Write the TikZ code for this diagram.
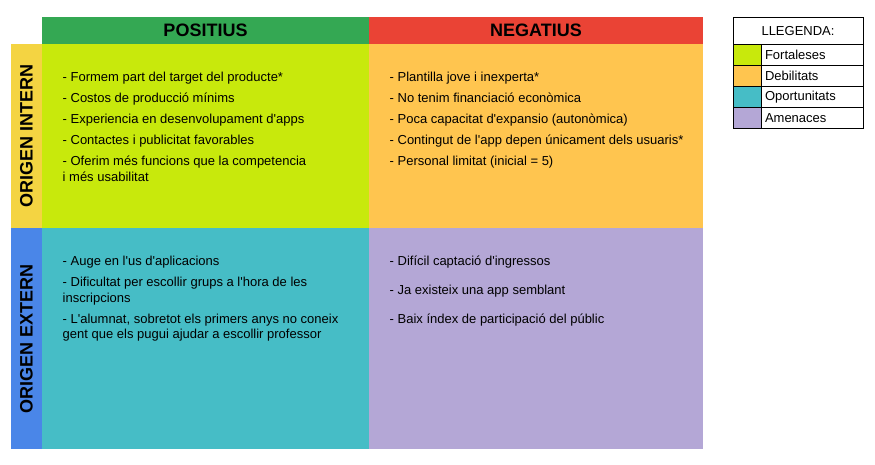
\documentclass[tikz,border=0pt]{standalone}
\usepackage{fontspec}
\setmainfont{Liberation Sans}
\usepackage{tikz}
\usetikzlibrary{positioning}
\definecolor{posgreen}{HTML}{34A853}
\definecolor{negred}{HTML}{EA4335}
\definecolor{intyellow}{HTML}{F4D442}
\definecolor{extblue}{HTML}{4A86E8}
\definecolor{fortcol}{HTML}{C8E90C}
\definecolor{debcol}{HTML}{FFC54F}
\definecolor{oporcol}{HTML}{46BDC6}
\definecolor{amencol}{HTML}{B4A7D6}
\newcommand{\ap}{\textquotesingle}

\begin{document}
\begin{tikzpicture}[
    x=1pt, y=-1pt,
    cell/.style={inner sep=0pt, outer sep=0pt},
    head/.style={cell, minimum height=27.3pt, font=\fontsize{18}{20}\selectfont\bfseries},
    side/.style={rotate=90, font=\fontsize{18}{20}\selectfont\bfseries},
    items/.style={align=left, inner sep=0pt, font=\fontsize{13}{15.5}\selectfont},
    key/.style={draw=black, line width=0.8pt, inner sep=0pt, outer sep=0pt, minimum height=21.1pt,
                font=\fontsize{13}{15}\selectfont},
    keylabel/.style={key, text width=94pt, inner xsep=4pt, align=left}
  ]
    \useasboundingbox (0,0) rectangle (875,464);

    % header row
    \node[head, fill=posgreen, minimum width=327pt, anchor=north west] (poshead) at (42,16.7) {POSITIUS};
    \node[head, fill=negred, minimum width=334pt, right=0pt of poshead] (neghead) {NEGATIUS};

    % the four quadrants
    \node[cell, fill=fortcol, minimum width=327pt, minimum height=184pt, below=0pt of poshead] (fort) {};
    \node[cell, fill=debcol, minimum width=334pt, minimum height=184pt, right=0pt of fort] (deb) {};
    \node[cell, fill=oporcol, minimum width=327pt, minimum height=221pt, below=0pt of fort] (opor) {};
    \node[cell, fill=amencol, minimum width=334pt, minimum height=221pt, right=0pt of opor] (amen) {};

    % side column
    \node[cell, fill=intyellow, minimum width=31.3pt, minimum height=184pt, left=0pt of fort] (intern) {};
    \node[cell, fill=extblue, minimum width=31.3pt, minimum height=221pt, left=0pt of opor] (extern) {};
    \node[side] at (intern) {ORIGEN INTERN};
    \node[side] at (extern) {ORIGEN EXTERN};

    % contents
    \node[items, below right=28pt and 20.5pt of fort.north west] (fortlist)
      {- Formem part del target del producte*\\[5.5pt]
       - Costos de producció mínims\\[5.5pt]
       - Experiencia en desenvolupament d\ap apps\\[5.5pt]
       - Contactes i publicitat favorables\\[5.5pt]
       - Oferim més funcions que la competencia\\
       i més usabilitat};
    \node[items, below right=28pt and 20.5pt of deb.north west] (deblist)
      {- Plantilla jove i inexperta*\\[5.5pt]
       - No tenim financiació econòmica\\[5.5pt]
       - Poca capacitat d\ap expansio (autonòmica)\\[5.5pt]
       - Contingut de l\ap app depen únicament dels usuaris*\\[5.5pt]
       - Personal limitat (inicial = 5)};
    \node[items, below right=27.7pt and 20.5pt of opor.north west] (oporlist)
      {- Auge en l\ap us d\ap aplicacions\\[5.5pt]
       - Dificultat per escollir grups a l\ap hora de les\\[0.5pt]
       inscripcions\\[5.5pt]
       - L\ap alumnat, sobretot els primers anys no coneix\\
       gent que els pugui ajudar a escollir professor};
    \node[items, below right=27.7pt and 20.5pt of amen.north west] (amenlist)
      {- Difícil captació d\ap ingressos\\[13.5pt]
       - Ja existeix una app semblant\\[13.5pt]
       - Baix índex de participació del públic};

    % legend
    \node[key, minimum width=130pt, minimum height=27.3pt, anchor=north west] (legtitle) at (733,17) {LLEGENDA:};
    \node[key, fill=fortcol, minimum width=28pt, below right=0pt and 0pt of legtitle.south west] (fortkey) {};
    \node[keylabel, right=0pt of fortkey] (fortname) {Fortaleses};
    \node[key, fill=debcol, minimum width=28pt, below=0pt of fortkey] (debkey) {};
    \node[keylabel, right=0pt of debkey] (debname) {Debilitats};
    \node[key, fill=oporcol, minimum width=28pt, below=0pt of debkey] (oporkey) {};
    \node[keylabel, right=0pt of oporkey] (oporname) {Oportunitats};
    \node[key, fill=amencol, minimum width=28pt, below=0pt of oporkey] (amenkey) {};
    \node[keylabel, right=0pt of amenkey] (amenname) {Amenaces};
  \end{tikzpicture}
\end{document}
